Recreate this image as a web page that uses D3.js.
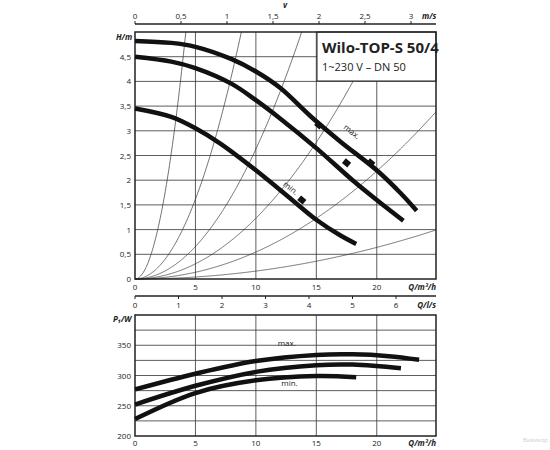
<!DOCTYPE html><html><head><meta charset="utf-8"><script src="https://cdn.jsdelivr.net/npm/d3@7"></script>
<style>body{margin:0;background:#fff}text{font-family:"Open Sans",sans-serif;fill:#222}</style></head><body><svg id="c" width="550" height="450"></svg>
<script>
const hMax=[[0,4.82],[3,4.78],[5,4.7],[8,4.45],[10,4.2],[12,3.87],[14.5,3.3],[17,2.78],[20,2.2],[22,1.73],[23.3,1.38]];
const hMid=[[0,4.5],[3,4.4],[5,4.27],[8,3.95],[10,3.62],[12,3.25],[15,2.65],[18,2.0],[20,1.6],[22.2,1.18]];
const hMin=[[0,3.45],[3,3.28],[5,3.05],[7,2.75],[10,2.2],[13,1.6],[15,1.2],[17,0.88],[18.3,0.71]];
const sysK=[0.283,0.0646,0.0263,0.0123,0.00546,0.0016];
const pMax=[[0,277],[5,303],[10,324],[15,334],[18,335],[21,332],[23.5,326]];
const pMid=[[0,252],[5,283],[10,306],[15,317],[18,318],[22,312]];
const pMin=[[0,228],[5,271],[10,292],[15,299],[18.3,297]];
const markers=[[15.2,3.12],[19.5,2.35],[17.5,2.35],[13.8,1.6]];
const qTicks=[0,5,10,15,20], hTicks=[0,0.5,1,1.5,2,2.5,3,3.5,4,4.5], vTicks=[0,0.5,1,1.5,2,2.5,3], lsTicks=[0,1,2,3,4,5,6], pTicks=[200,250,300,350];
const fmt=d=>String(d).replace('.',',');
const svg=d3.select('#c');
const x=d3.scaleLinear().domain([0,24.9]).range([135,436]);
const y=d3.scaleLinear().domain([0,5]).range([279,32]);
const yp=d3.scaleLinear().domain([200,400]).range([436,315]);
const xv=d3.scaleLinear().domain([0,3]).range([135,411]);
const xl=d3.scaleLinear().domain([0,6]).range([135,396]);
const g=svg.append('g');
qTicks.slice(1).forEach(q=>{g.append('line').attr('x1',x(q)).attr('x2',x(q)).attr('y1',y(5)).attr('y2',y(0)).attr('stroke','#333').attr('stroke-width',0.8);
 g.append('line').attr('x1',x(q)).attr('x2',x(q)).attr('y1',yp(400)).attr('y2',yp(200)).attr('stroke','#333').attr('stroke-width',0.8);});
hTicks.slice(1).forEach(h=>g.append('line').attr('x1',x(0)).attr('x2',x(24.9)).attr('y1',y(h)).attr('y2',y(h)).attr('stroke','#333').attr('stroke-width',0.8));
d3.range(225,400,25).forEach(p=>g.append('line').attr('x1',x(0)).attr('x2',x(24.9)).attr('y1',yp(p)).attr('y2',yp(p)).attr('stroke','#333').attr('stroke-width',0.8));
sysK.forEach(k=>{const qEnd=Math.min(24.9,Math.sqrt(5/k));const pts=d3.range(0,qEnd,0.05).concat([qEnd]).map(q=>[q,k*q*q]);
 g.append('path').attr('d',d3.line().x(d=>x(d[0])).y(d=>y(d[1]))(pts)).attr('fill','none').attr('stroke','#333').attr('stroke-width',0.7);});
g.append('rect').attr('x',317).attr('y',32).attr('width',119).attr('height',49).attr('fill','#fff').attr('stroke','#222').attr('stroke-width',1);
g.append('text').attr('x',322).attr('y',53).attr('font-size',15).attr('font-weight','bold').text('Wilo-TOP-S 50/4');
g.append('text').attr('x',322).attr('y',71).attr('font-size',11).text('1~230 V – DN 50');
g.append('rect').attr('x',135).attr('y',32).attr('width',301).attr('height',247).attr('fill','none').attr('stroke','#222').attr('stroke-width',1.5);
g.append('rect').attr('x',135).attr('y',315).attr('width',301).attr('height',121).attr('fill','none').attr('stroke','#222').attr('stroke-width',1.5);
const ln=d3.line().x(d=>x(d[0])).y(d=>y(d[1])).curve(d3.curveCatmullRom);
[hMax,hMid,hMin].forEach(c=>g.append('path').attr('d',ln(c)).attr('fill','none').attr('stroke','#111').attr('stroke-width',4.5));
const lp=d3.line().x(d=>x(d[0])).y(d=>yp(d[1])).curve(d3.curveCatmullRom);
[pMax,pMid,pMin].forEach(c=>g.append('path').attr('d',lp(c)).attr('fill','none').attr('stroke','#111').attr('stroke-width',4.5));
markers.forEach(m=>g.append('rect').attr('x',-3.5).attr('y',-3).attr('width',7).attr('height',6).attr('fill','#111').attr('transform',`translate(${x(m[0])},${y(m[1])}) rotate(40)`));
g.append('text').attr('font-size',8).attr('transform',`translate(${x(17.2)},${y(3.05)}) rotate(38)`).text('max.');
g.append('text').attr('font-size',8).attr('transform',`translate(${x(12.2)},${y(1.9)}) rotate(38)`).text('min.');
g.append('text').attr('font-size',8).attr('x',x(11.8)).attr('y',yp(348)).text('max.');
g.append('text').attr('font-size',8).attr('x',x(12.1)).attr('y',yp(282)).text('min.');
const fs=8;
hTicks.forEach(h=>g.append('text').attr('x',131).attr('y',y(h)+3).attr('text-anchor','end').attr('font-size',fs).text(fmt(h)));
pTicks.forEach(p=>g.append('text').attr('x',131).attr('y',yp(p)+3).attr('text-anchor','end').attr('font-size',fs).text(p));
qTicks.forEach(q=>{g.append('text').attr('x',x(q)).attr('y',290).attr('text-anchor','middle').attr('font-size',fs).text(q);
 g.append('text').attr('x',x(q)).attr('y',446).attr('text-anchor','middle').attr('font-size',fs).text(q);});
g.append('line').attr('x1',135).attr('x2',436).attr('y1',24).attr('y2',24).attr('stroke','#222').attr('stroke-width',1.5);
vTicks.forEach(v=>{g.append('line').attr('x1',xv(v)).attr('x2',xv(v)).attr('y1',21).attr('y2',24).attr('stroke','#222');
 g.append('text').attr('x',xv(v)).attr('y',19).attr('text-anchor','middle').attr('font-size',fs).text(fmt(v));});
g.append('line').attr('x1',135).attr('x2',436).attr('y1',296).attr('y2',296).attr('stroke','#222').attr('stroke-width',1.5);
lsTicks.forEach(v=>{g.append('line').attr('x1',xl(v)).attr('x2',xl(v)).attr('y1',296).attr('y2',299).attr('stroke','#222');
 g.append('text').attr('x',xl(v)).attr('y',308).attr('text-anchor','middle').attr('font-size',fs).text(v);});
const it=(t,xx,yy,a)=>g.append('text').attr('x',xx).attr('y',yy).attr('font-size',8).attr('font-style','italic').attr('font-weight','bold').attr('text-anchor',a||'start').text(t);
it('m/s',422,19);it('v',285,8,'middle');it('H/m',116,40);it('Q/m³/h',436,290,'end');it('Q/l/s',436,308,'end');it('P₁/W',113,322);it('Q/m³/h',436,446,'end');
g.append('text').attr('x',548).attr('y',442).attr('text-anchor','end').attr('font-size',6).style('fill','#ccc').text('Викикор');
</script></body></html>
